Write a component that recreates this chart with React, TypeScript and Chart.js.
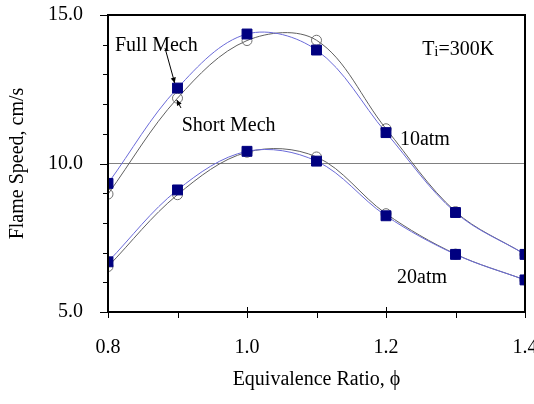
import React, { useEffect, useRef } from "react";
import { Chart, registerables } from "chart.js";

Chart.register(...registerables);

const phi = [0.8, 0.9, 1.0, 1.1, 1.2, 1.3, 1.4];
const full10 = [9.33, 12.54, 14.36, 13.82, 11.04, 8.35, 6.94];
const short10 = [8.97, 12.2, 14.14, 14.15, 11.17, 8.38, 6.94];
const full20 = [6.69, 9.11, 10.41, 10.08, 8.24, 6.94, 6.08];
const short20 = [6.53, 8.95, 10.38, 10.22, 8.31, 6.95, 6.08];

const xMin = 0.8, xMax = 1.4, xStep = 0.2, xMinor = 0.1;
const yMin = 5, yMax = 15, yStep = 5, yMinor = 1;

const FONT = '"Liberation Serif", "Times New Roman", serif';

const pts = (ys: number[]) => phi.map((x, i) => ({ x, y: ys[i] }));

const decorPlugin = {
  id: "decor",
  afterDraw(chart: any) {
    const { ctx, chartArea, scales } = chart;
    const { left, right, top, bottom } = chartArea;
    const xs = scales.x, ys = scales.y;
    ctx.save();
    ctx.strokeStyle = "#000";
    ctx.lineWidth = 2;
    ctx.strokeRect(left, top, right - left, bottom - top);
    ctx.lineWidth = 1;
    // y ticks
    for (let v = yMin; v <= yMax + 1e-9; v += yMinor) {
      const py = Math.round(ys.getPixelForValue(v)) + 0.5;
      const major = Math.abs(v / yStep - Math.round(v / yStep)) < 1e-6;
      ctx.beginPath();
      ctx.moveTo(left - (major ? 8 : 5), py);
      ctx.lineTo(left, py);
      ctx.stroke();
    }
    // x ticks
    for (let i = 0; i <= Math.round((xMax - xMin) / xMinor); i++) {
      const v = xMin + i * xMinor;
      const px = Math.round(xs.getPixelForValue(v)) + 0.5;
      const major = i % 2 === 0;
      ctx.beginPath();
      ctx.moveTo(px, major ? bottom - 5 : bottom);
      ctx.lineTo(px, bottom + 6);
      ctx.stroke();
    }
    // annotations
    const X = (v: number) => xs.getPixelForValue(v);
    const Y = (v: number) => ys.getPixelForValue(v);
    ctx.fillStyle = "#000";
    ctx.textAlign = "left";
    ctx.textBaseline = "alphabetic";
    ctx.font = `20px ${FONT}`;
    ctx.fillText("Full Mech", X(0.81), Y(13.79));
    ctx.fillText("Short Mech", X(0.906), Y(11.09));
    ctx.fillText("10atm", X(1.22), Y(10.62));
    ctx.fillText("20atm", X(1.216), Y(5.98));
    // Ti=300K
    let tx = X(1.252);
    const tyy = Y(13.65);
    ctx.fillText("T", tx, tyy);
    tx += ctx.measureText("T").width;
    ctx.font = `15px ${FONT}`;
    ctx.fillText("i", tx, tyy + 1);
    tx += ctx.measureText("i").width;
    ctx.font = `20px ${FONT}`;
    ctx.fillText("=300K", tx, tyy);

    const arrow = (x1: number, y1: number, x2: number, y2: number) => {
      const ax1 = X(x1), ay1 = Y(y1), ax2 = X(x2), ay2 = Y(y2);
      ctx.beginPath();
      ctx.moveTo(ax1, ay1);
      ctx.lineTo(ax2, ay2);
      ctx.lineWidth = 1;
      ctx.stroke();
      const ang = Math.atan2(ay2 - ay1, ax2 - ax1);
      const L = 6, W = 0.45;
      ctx.beginPath();
      ctx.moveTo(ax2, ay2);
      ctx.lineTo(ax2 - L * Math.cos(ang - W), ay2 - L * Math.sin(ang - W));
      ctx.lineTo(ax2 - L * Math.cos(ang + W), ay2 - L * Math.sin(ang + W));
      ctx.closePath();
      ctx.fill();
    };
    arrow(0.882, 13.89, 0.896, 12.71);
    arrow(0.905, 11.87, 0.899, 12.14);
    ctx.restore();
  },
};

export default function App() {
  const ref = useRef<HTMLCanvasElement>(null);
  useEffect(() => {
    document.body.style.margin = "0";
    const blue = "#6a6ad8";
    const gray = "#606060";
    const navy = "#000080";
    const fullStyle = {
      borderColor: blue,
      borderWidth: 1,
      pointStyle: "rect",
      pointRadius: 7,
      pointBackgroundColor: navy,
      pointBorderColor: navy,
      pointBorderWidth: 1,
      tension: 0.35,
      fill: false,
      order: 0,
    };
    const shortStyle = {
      borderColor: gray,
      borderWidth: 1,
      pointStyle: "circle",
      pointRadius: 5,
      pointBackgroundColor: "rgba(0,0,0,0)",
      pointBorderColor: "#707070",
      pointBorderWidth: 1,
      tension: 0.35,
      fill: false,
      order: 1,
    };
    const chart = new Chart(ref.current!, {
      type: "line",
      data: {
        datasets: [
          { label: "10atm Short Mech", data: pts(short10), ...shortStyle } as any,
          { label: "20atm Short Mech", data: pts(short20), ...shortStyle } as any,
          { label: "10atm Full Mech", data: pts(full10), ...fullStyle } as any,
          { label: "20atm Full Mech", data: pts(full20), ...fullStyle } as any,
        ],
      },
      options: {
        animation: false,
        responsive: false,
        maintainAspectRatio: false,
        layout: { padding: { top: 15, right: 9, left: 0, bottom: 0 } },
        plugins: { legend: { display: false }, tooltip: { enabled: false } },
        scales: {
          x: {
            type: "linear",
            min: xMin,
            max: xMax,
            border: { display: false },
            grid: { display: false, drawTicks: false },
            ticks: {
              stepSize: xStep,
              padding: 24,
              color: "#000",
              font: { family: FONT, size: 20 },
              callback: (v: any) => Number(v).toFixed(1),
            },
            title: {
              display: true,
              text: "Equivalence Ratio, \u03d5",
              color: "#000",
              font: { family: FONT, size: 20 },
              padding: { top: 0, bottom: 12 },
            },
            afterFit: (s: any) => {
              s.height = 92;
              s.paddingLeft = 0;
              s.paddingRight = 0;
            },
          } as any,
          y: {
            type: "linear",
            min: yMin,
            max: yMax,
            border: { display: false },
            grid: {
              drawTicks: false,
              color: (c: any) => (c.tick && c.tick.value === 10 ? "#808080" : "rgba(0,0,0,0)"),
              lineWidth: 1,
            },
            ticks: {
              stepSize: yStep,
              padding: 25,
              color: "#000",
              font: { family: FONT, size: 20 },
              callback: (v: any) => Number(v).toFixed(1),
            },
            title: {
              display: true,
              text: "Flame Speed, cm/s",
              color: "#000",
              font: { family: FONT, size: 20 },
              padding: { top: 6, bottom: 0 },
            },
            afterFit: (s: any) => {
              s.width = 108;
              s.paddingTop = 0;
              s.paddingBottom = 0;
            },
          } as any,
        },
      },
      plugins: [decorPlugin],
    });
    return () => chart.destroy();
  }, []);
  return <canvas ref={ref} width={534} height={404} style={{ display: "block" }} />;
}
